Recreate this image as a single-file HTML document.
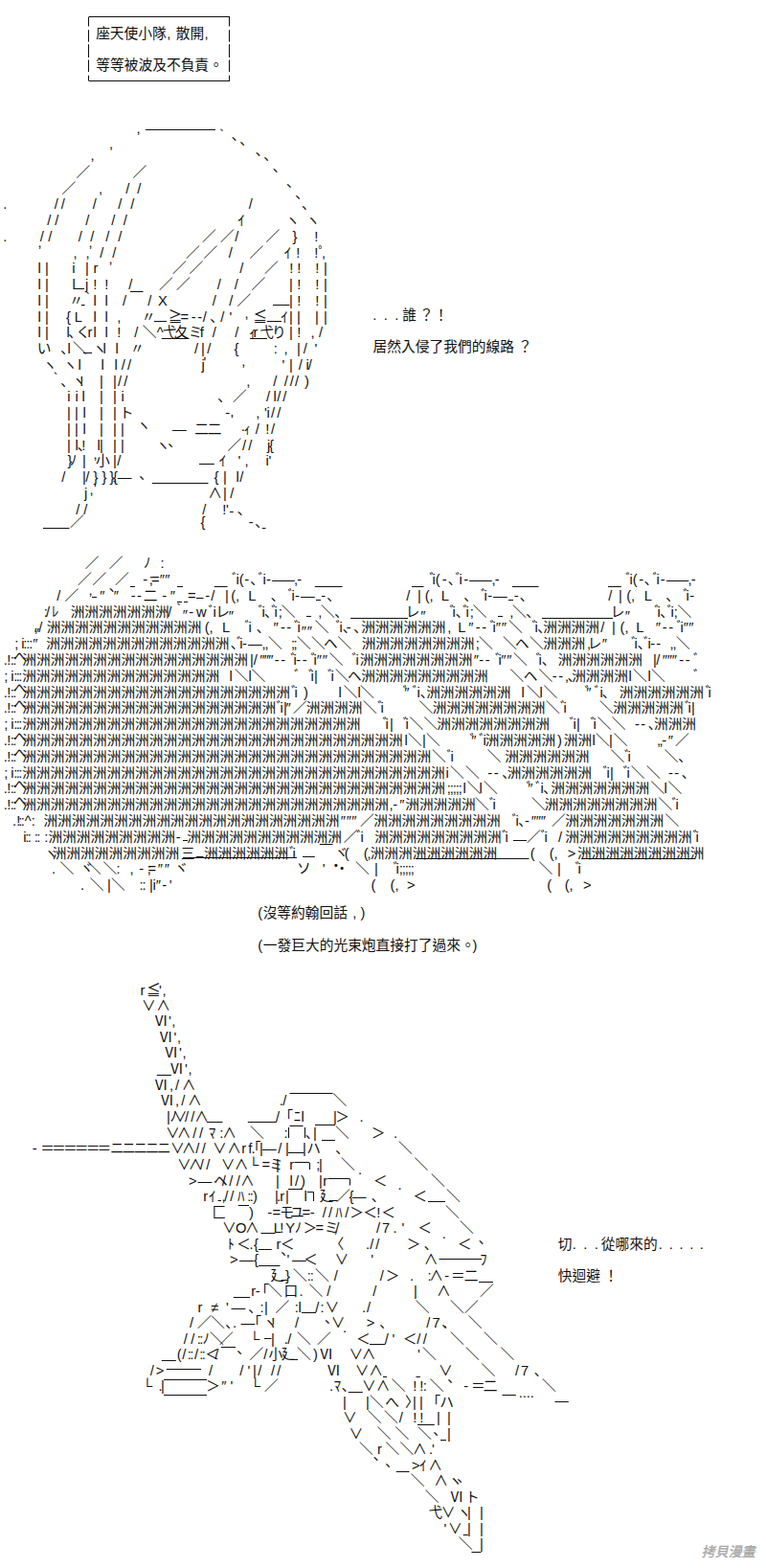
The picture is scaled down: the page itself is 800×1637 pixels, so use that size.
<!DOCTYPE html>
<html lang="zh-Hant"><head><meta charset="utf-8"><title>AA</title>
<style>
html,body{margin:0;padding:0;background:#fff}
body{width:800px;height:1637px;position:relative;overflow:hidden;font-family:"Liberation Sans",sans-serif}
.t{position:absolute;color:transparent;white-space:nowrap;margin:0;line-height:1}
</style></head><body>
<svg width="800" height="1637" viewBox="0 0 800 1637" style="position:absolute;left:0;top:0"><g fill="#111"><g transform="scale(0.007696)" font-size="1914" font-family="'Liberation Sans','Noto Sans CJK JP',sans-serif">
<g font-family="'Liberation Sans','Noto Sans CJK TC',sans-serif">
<text y="5261" x="13011 14925 16839 18753 20667 22630 23876 25790 27753">座天使小隊,散開,</text>
<text y="9549" x="13026 14940 16854 18768 20682 22596 24510 26424 28372">等等被波及不負責。</text>
<text y="43399" x="50584 52078 53572 54592 56914 58891">...誰？！</text>
<text y="47687" x="50623 52537 54451 56365 58279 60193 62107 64021 65935 67849 70298">居然入侵了我們的線路？</text>
<text y="124481" x="34993 35686 37600 39514 41428 43342 45256 47834 48926">(沒等約翰回話,)</text>
<text y="128834" x="34993 35699 37614 39528 41442 43356 45270 47184 49098 51012 52926 54840 56754 58668 60582 62529 64129">(一發巨大的光束炮直接打了過來。)</text>
<text y="169376" x="75734 77676 79170 80665 81573 83487 85401 87315 89371 90800 92197 93594 94958">切...從哪來的.....</text>
<text y="173664" x="75732 77646 79560 81955">快迴避！</text>
</g>
<text x="18503" y="18017">,</text>
<text x="29209" y="19365">｀</text>
<text x="31442" y="18969">､</text>
<text x="32546" y="19619">､</text>
<text x="14800" y="20194">,</text>
<text x="34690" y="21016">､</text>
<text x="35795" y="21763">､</text>
<text x="12266" y="21720">,</text>
<text y="24038" x="10316 18008">／／</text>
<text x="37029" y="23257">､</text>
<text y="26208" x="8367 17056 18615 13370">／//,</text>
<text x="38881" y="25336">､</text>
<text y="28391" x="7376 8285 12573 16017 17706 33753 40960 433">//////､.</text>
<text x="40083" y="26896">､</text>
<text y="30561" x="6401 7441 11599 15107 16731 32255 38746 41507">/////ｲヽヽ</text>
<text y="32744" x="5426 6531 10624 12248 14327 16017 27403 29872 31869 36044 39699 42642 433">//////／／/／}!.</text>
<text x="5119" y="33480">,</text>
<text x="12006" y="33571">,</text>
<text y="34914" x="9927 11616 13548 15237 25194 27598 31025 33835 38557 40173 42642 43216 43646">,,//／／/／ｲ!!ﾟ,</text>
<text y="37097" x="5119 6099 9794 11556 12684 23375 25649 32519 35849 39263 40303 42772 43911">l|i|r／／/／!!!|</text>
<text x="14735" y="35689">,</text>
<text y="39267" x="5119 6099 9796 11574 12626 14185 17446 21556 23894 29465 31804 34095 39233 40303 42772 43911">l|lj!!/／／//／|!!|</text>
<text y="41450" x="5119 6099 9372 11017 12655 14214 16634 20045 21454 28816 31090 32146 39233 40303 42772 43911">l|〃｀ll//X//／|!!|</text>
<text x="10939" y="41946">-</text>
<text y="43620" x="5119 6099 8977 10091 12655 14214 15872 19183 22841 24478 25951 26796 27516 28518 29920 31120 34338 38102 39233 40273 42742 43911">l|{Lll,〃≧=--/､/'≦ｲ||||</text>
<text x="33186" y="43161">,</text>
<text y="45803" x="5119 6099 9017 9287 10320 11904 12655 14214 15874 18226 19320 21265 22062 23714 25552 27118 28816 31869 33774 34384 35251 36917 39233 40303 42152 43272">l|l､くrll!/＼^弋夂ミf//ｨr弋り|!,/</text>
<text y="47973" x="5026 8248 9147 9867 12563 13954 15644 17656 26379 27279 28101 31781 37143 38514 40273 41160 42684">い､l＼ヽll〃/|/{:,|/'</text>
<text y="50156" x="5806 8567 10576 13695 15514 16471 17283 27361 38266 39233 40510 41499 41810">ヽヽlll//j'|/i/</text>
<text x="27611" y="49728">'</text>
<text x="32764" y="49658">,</text>
<text y="52326" x="6664 8248 9769 10806 13505 15324 15984 16796 33414 37067 38561 39341 40023 41325">｀､ヽ!||//,////)</text>
<text y="54508" x="9144 10184 11096 13505 15324 16421 29558 31561 36125 37084 37587 38366">iil||i､／/l//</text>
<text y="56679" x="9087 10127 11226 13505 15324 16205 30564 34713 35862 36172 36775 37587">||l||ト-,'i//</text>
<text x="31314" y="57525">'</text>
<text y="58861" x="9087 10127 11226 13505 15324 16364 23402 26409 28163 33060 34663 36015 36775">||l|||―二二ｨ/!/</text>
<text x="18540" y="58337">ヽ</text>
<text x="32704" y="58409">.</text>
<text y="61031" x="9087 10186 10522 11066 13175 13505 15324 16364 21139 30846 32876 33688 36262 36524">|l､!l|||ヽ／//j{</text>
<text x="22801" y="60615">､</text>
<text y="63214" x="9163 9481 11166 12985 15324 15887 29721 32289 33186 36042 36447">}ﾉ|小|/ｲ',i'</text>
<text x="12656" y="62262">,</text>
<text y="65384" x="8350 11166 11599 12671 13841 14880 15344 15963 29053 30267 32016 32519">/|/}}}{―{|l/</text>
<text x="18903" y="64968">､</text>
<text y="67567" x="11444 28243 30267 31220">j∧|/</text>
<text x="12733" y="66880">'</text>
<text x="12136" y="67005">,</text>
<text x="14656" y="67053">｀</text>
<text y="69737" x="10299 11339 27451 30167 30665 32222">///!'､</text>
<text y="71466" x="9471 27233 33747 34625">／{-､</text>
<text y="77066" x="11518 14766 19486 21763">／／ﾉ:</text>
<text y="79249" x="10511 12525 15578 19389 20227 20515 21665 22379 31459 32014 32459 33163 33976 35033 35652 36119 36916 38085 39878 40309 58260 58651 59097 59995 60808 61801 62290 62919 63684 64853 66711 67142 84897 85419 85864 86698 87446 88568 89057 89622 90451 91556 93348 93780">／／／-;=″″ﾞi(-､ﾞi-――,-ﾞi(-､ﾞi-――,-ﾞi(-､ﾞi-――,-</text>
<text y="81432" x="7700 8756 13544 15428 17765 18577 19457 21988 23094 25453 27835 28621 30527 31354 31952 33676 36769 39061 39550 40017 40814 43558 44371 55129 56645 57667 58265 59858 62952 65244 65668 66167 66932 69741 70554 82546 83933 85020 85617 87406 90370 92694 93086 93585">/／″″--二-″=-/|(,L､ﾞi-―-､/|(,L､ﾞi-―-､/|(,L､ﾞi-</text>
<text x="12006" y="80648">,</text>
<text x="14810" y="80236">､</text>
<text y="83615" x="5957 6239 7011 9570">:/ﾚ洲洲洲洲洲洲洲</text>
<text y="83615" x="22773 23362 25626 26624 28276 28895 29274 35033 35522 35892 36820 37211 37769 38161 43159 69509 43521 45410 55068 61021 61380 61848 62808 63199 63757 64149 69147 71398 82875 88796 89187 89590 90517 91006 91434 91924">/｀-wﾞiレﾞi､ﾞi;＼,＼＼､レﾞi､ﾞi;＼,､レﾞi､ﾞi;＼</text>
<text x="24783" y="84075">″</text>
<text x="31021" y="84205">″</text>
<text x="57074" y="84205">″</text>
<text x="84816" y="84205">″</text>
<text y="85798" x="4599 5232 6321">,/洲洲洲洲洲洲洲洲洲洲洲</text>
<text y="85798" x="27781 28378 30135 33214 33703 34820 37095 38068 38880 39906 40330 42709 45558 46047 46515 47001 48009 49006">(,Lﾞi､″--ﾞi＼ﾞi､-､洲洲洲洲洲洲</text>
<text y="85798" x="60701 62132 63571 64543 65388 66478 66838 67274 68053 68990 72196 72555 72958 73695">,L″--ﾞi″″＼ﾞi､洲洲洲洲</text>
<text y="85798" x="81506 83023 84143 84772 86301 88974 89882 90726 91817 92306 92742 93457">/|(,L″--ﾞi″″</text>
<text x="4643" y="86544">″</text>
<text x="40896" y="86219">″</text>
<text x="41676" y="86219">″</text>
<text y="87981" x="1970 2907 3163 3553 3943 4448 6256">;i:::″洲洲洲洲洲洲洲洲洲洲洲洲洲</text>
<text y="87981" x="31312 32109 32533 32870 33667 35525 35915 36375 39488 39813 40273 42222 43921 45795 49071">､ﾞi-―,,＼;;＼＼ヘ＼洲洲洲洲洲洲洲洲</text>
<text y="87981" x="64536 64962 68210 69909 71848 73695">;＼＼ヘ＼洲洲洲</text>
<text y="87981" x="79640 79756 81697 85645 86069 86537 87334 87888 88257 89037 90880 91269 91729">,レ″ﾞi､ﾞi--,,＼</text>
<text y="90164" x="492 931 1409 1734 3034">.!::洲洲洲洲洲洲洲洲洲洲洲洲洲洲洲洲</text>
<text x="1821" y="89757">へ</text>
<text y="90164" x="33906 34403 35244 35828 36413 37256 38100 39418 39810 40179 41024 42180 42539 42975 43755 44658 47767 48256 48811">|/″″″--ﾞi--ﾞi″″＼ﾞi洲洲洲洲洲洲洲洲</text>
<text y="90164" x="64285 64998 65843 67193 67617 67988 68768 69639 72715 73075 73542 75709">″--ﾞi″″＼ﾞi､洲洲洲洲洲洲</text>
<text y="90164" x="88611 89043 89883 90533 91183 92156 93000 94091">|/″″″--ﾞ</text>
<text y="92347" x="541 1478 1838 2163 2488 3008">;i:::洲洲洲洲洲洲洲洲洲洲洲洲洲洲</text>
<text y="92347" x="31107 31827 33705 34101 39906 41855 42149 42612 44454 44878 45471 47170 49006">l＼l＼ﾞﾞi|ﾞi＼ヘ洲洲洲洲洲洲洲洲洲</text>
<text y="92347" x="69185 71046 73083 74938 75783 76651 77051 77593">＼ヘ＼--,､洲洲洲洲</text>
<text y="92347" x="85292 85882 87890 88351 94091">l＼l＼ﾞ</text>
<text y="94530" x="492 931 1409 1734 3034">.!::洲洲洲洲洲洲洲洲洲洲洲洲洲洲洲洲洲洲洲</text>
<text x="1821" y="94123">へ</text>
<text y="94530" x="39516 39940 41195 45920 46608 48519 48849 54654 54865 55953 56572 57040 57842">ﾞi)l＼l＼ﾞ″ﾞi､洲洲洲洲洲洲</text>
<text y="94530" x="70738 71459 73207 73733 79342 79553 80642 81391 81729 84025">l＼l＼ﾞ″ﾞi､洲洲洲洲洲洲</text>
<text y="94530" x="95715 96074">ﾞi</text>
<text y="96713" x="492 931 1409 1734 3034">.!::洲洲洲洲洲洲洲洲洲洲洲洲洲洲洲洲洲洲</text>
<text x="1821" y="96306">へ</text>
<text y="96713" x="37502 37991 38454 38784 39747 41535">ﾞi|″／洲洲洲洲</text>
<text y="96713" x="49239 51243 51635 56840 58687">＼ﾞi＼洲洲洲洲洲洲洲洲</text>
<text y="96713" x="74057 76029 76453 81334 83181">＼ﾞi＼洲洲洲洲洲</text>
<text y="96713" x="92921 93345 93808">ﾞi|</text>
<text y="98896" x="541 1478 1838 2163 2488 3008">;i:::洲洲洲洲洲洲洲洲洲洲洲洲洲洲洲洲洲洲洲洲洲洲洲洲</text>
<text y="98896" x="51925 52284 52877 54686 55013 55541 57490 59272">ﾞi|ﾞi＼＼洲洲洲洲洲洲洲洲</text>
<text y="98896" x="77263 77753 78215 80122 80481 81042 82991 86146 86958 87966 88736">ﾞi|ﾞi＼＼--､洲洲洲</text>
<text y="101079" x="492 931 1409 1734 3034">.!::洲洲洲洲洲洲洲洲洲洲洲洲洲洲洲洲洲洲洲洲洲洲洲洲洲洲洲</text>
<text x="1821" y="100672">へ</text>
<text y="101079" x="54886 55346 57295 57815 63750 63960 64984 65538 65834">l＼|＼ﾞ″ﾞi洲洲洲洲洲</text>
<text y="101079" x="75629 76489">)洲洲</text>
<text y="101079" x="80354 80814 82633 83251 89125 89450 89817 90663 91593">l＼|＼,,-″／</text>
<text y="103262" x="492 931 1409 1734 3034">.!::洲洲洲洲洲洲洲洲洲洲洲洲洲洲洲洲洲洲洲洲洲洲洲洲洲洲洲洲洲</text>
<text x="1821" y="102855">へ</text>
<text y="103262" x="58594 60631 61120 66099 68497">＼ﾞi＼洲洲洲洲洲洲</text>
<text y="103262" x="82828 84735 85159 90137 92059">＼ﾞi＼､</text>
<text y="105445" x="541 1478 1838 2163 2488 3008">;i:::洲洲洲洲洲洲洲洲洲洲洲洲洲洲洲洲洲洲洲洲洲洲洲洲洲洲洲洲洲洲</text>
<text y="105445" x="60471 61063 63142 66167 67012 68150 68822">i＼＼--､洲洲洲洲洲洲</text>
<text y="105445" x="81811 82300 82763 84573 85029 85590 87701 90694 91506 92514">ﾞi|ﾞi＼＼--､</text>
<text y="107628" x="492 931 1409 1734 3034">.!::洲洲洲洲洲洲洲洲洲洲洲洲洲洲洲洲洲洲洲洲洲洲洲洲洲洲洲洲洲洲</text>
<text x="1821" y="107221">へ</text>
<text y="107628" x="60638 61028 61418 61807 62197 62812 63337 65021 65611 71416 71627 72651 73335 73737 74735">;;;;;l＼l＼ﾞ″ﾞi､洲洲洲洲洲洲洲</text>
<text y="107628" x="88286 90099 90625">＼l＼</text>
<text y="109811" x="492 931 1409 1734 3034">.!::洲洲洲洲洲洲洲洲洲洲洲洲洲洲洲洲洲洲洲洲洲洲洲洲洲洲</text>
<text x="1821" y="109404">へ</text>
<text y="109811" x="52807 53303 54215 54984">,-″洲洲洲洲洲</text>
<text y="109811" x="64442 66381 66838 72108 73890">＼ﾞi＼洲洲洲洲洲洲洲洲</text>
<text y="109811" x="89325 91167 91656">＼ﾞi</text>
<text y="111994" x="1681 2230 2514 2839 3333 4268 5899">.!::^:洲洲洲洲洲洲洲洲洲洲洲洲洲洲洲洲洲洲洲洲洲</text>
<text y="111994" x="46224 47003 47718 48843 50696">″″″／洲洲洲洲洲洲洲洲洲</text>
<text y="111994" x="69467 69956 70359 71203 72082 72731 73381 74831 76684">ﾞi､-″″″／洲洲洲洲洲洲洲</text>
<text y="111994" x="90235">＼</text>
<text y="114177" x="3167 3423 3748 4658 4983 6022 6548">i:::::洲洲洲洲洲洲洲洲洲</text>
<text y="114177" x="23872 25357">-洲洲洲洲洲洲洲洲洲洲洲</text>
<text y="114177" x="46602 48352 48906 50826">／ﾞi洲洲洲洲洲洲洲洲洲</text>
<text y="114177" x="68103 68527 71453 73365 73854 75757 76684">ﾞi／ﾞi/洲洲洲洲洲洲洲洲洲</text>
<text y="114177" x="94026 94385">ﾞi</text>
<text y="116360" x="5968 7101">ヽ洲洲洲洲洲洲洲洲洲</text>
<text y="116360" x="24525 27664">三洲洲洲洲洲洲</text>
<text y="116360" x="39256 39680 45396 46752 49351 49818 50241">ﾞiヾ((,洲洲洲洲洲洲洲洲洲</text>
<text y="116360" x="71961 74560 75157 77035 78340">((,&gt;洲洲洲洲洲洲洲洲洲</text>
<text y="118543" x="7008 8113 10832 11816 13960 15800 17593 18869 19967 20060 21405 22315 23664 40284 43756 45454 48199 50798 53354 53714 54141 54531 54921 55310 55700 73083 75617 78043 78402">.＼ヾ＼＼:,-;=″″ヾソ'・＼|ﾞi;;;;;＼|ﾞi</text>
<text x="44642" y="118114">・</text>
<text y="120726" x="10906 12173 14545 15065 18905 19294 20262 20709 21145 21988 22966 50358 52957 53587 55238 74235 76639 77236 79147">.＼|＼::|i″-'((,&gt;((,&gt;</text>
<text y="134941" x="19051 19882 21569 22011">r≦',</text>
<text y="137053" x="19243 21226">∨∧</text>
<text y="139165" x="20935 22868 23278">Ⅵ',</text>
<text y="141309" x="21585 23583 24025">Ⅵ',</text>
<text y="143453" x="22300 24298 24740">Ⅵ',</text>
<text y="145629" x="23047 25077 25520">Ⅵ',</text>
<text y="147806" x="20935 22986 23781 24669">Ⅵ,/∧</text>
<text y="149982" x="21747 23765 24593 25482 38366 45146 37901">Ⅵ,/∧/＼.</text>
<text y="152159" x="22601 23059 23499 25080 25892 26424 37424 38813 39859 40852 45211 45525 48784">|ﾉ∨//∧/｢ﾆl|＞.</text>
<text y="154303" x="53397 22491 24020 26152 27029 28324 29801 30192 33906 38540 41447 42482 45471 50397">.∨∧//ﾏ:∧＼:､|＼＞</text>
<text y="156479" x="4381 5492 7031 8571 10111 11651 13191 14928 16519 18111 19703 21295 23141 24669 26542 27386 28859 30842 32792 33680 34101 34460 35205 35617 37717 38714 41053 41605 45540 54047">-＝＝＝＝＝＝ニニニニニ∨∧//∨∧rf.｢|―/||ハ､＼</text>
<text y="158656" x="24051 25579 27126 27971 29996 31816 33711 35523 36532 37414 39289 42901 43261 46250 56191">∨∧//∨∧└=ミ|r;|＼＼</text>
<text y="160800" x="25611 26846 28978 30115 31090 32064 32628 37414 39293 40023 40805 43261 43837 50645 58465">&gt;―ヘ///∧|l/)|r＜＼</text>
<text x="48589" y="159307">.</text>
<text y="162944" x="27595 28324 30068 30440 31220 32237 33569 33894 34308 37284 37544 37990 38714 41242 43333 45594 47374 47798 50413 56038 60544">rｲ,//ﾊ::)|.r|l廴／{―､＜＼</text>
<text x="53982" y="161386">.</text>
<text y="165088" x="28795 33788 36281 36952 37980 39386 40981 42064 43759 44571 45523 46812 47474 49281 51088 51750 60414">匚)-=モユ=-//ﾊ/＞＜!＜＼</text>
<text y="167232" x="30158 31970 33278 37119 37964 38760 39984 41139 42800 44004 45271 45513 51068 51839 53332 54509 56687 62363">∨O∧L!Yﾉ＞=ミ,//7.'＜＼</text>
<text y="169376" x="30856 32096 33841 34445 37503 38041 44777 49629 50191 50970 55205 57560 62080">ﾄ＜.{r＜〈.//＞､＜</text>
<text x="59991" y="167948">.</text>
<text x="64966" y="168660">､</text>
<text y="171520" x="31199 32498 34445 38916 39645 41192 45426 50318 57544 65145">&gt;―{'―＜∨'∧ﾌ</text>
<text x="38134" y="170220">､</text>
<text y="173664" x="36674 38724 39753 41691 42081 42742 45318 51555 52346 55606 58031 58259 60320 61204 62987">廴}＼::＼//＞.:∧-＝二</text>
<text y="175808" x="34092 34657 35564 36375 38511 40598 41897 44344 50581 56126 59266 65086">r-｢＼口.＼//|∧／</text>
<text y="177952" x="26848 28580 30665 31393 33716 35291 35855 37343 40001 40462 42784 43463 44127 49109 49769 56353 61063 63006">r≠'―､:|／:l/:∨./＼＼／</text>
<text y="180096" x="25730 26753 28578 30597 31567 32693 34525 35692 36794 40023 44939 49748 51518 57857 58661 60154 63500 59964">/／＼､.―｢ヽ!/∨&gt;､/7.＼､</text>
<text x="44079" y="179380">､</text>
<text x="46510" y="180747">.</text>
<text y="182240" x="24917 25892 26748 27072 27477 28448 29742 33841 36764 38551 39016 40273 42996 48339 52205 53209 54673 56558 57403 61063 65611">//::ﾉ＼／└|./＼／＜/'＜//＼＼</text>
<text y="184384" x="24013 24723 25448 25773 26379 27072 27397 27841 29141 33835 35767 36439 38135 40273 42494 43350 47375 49098 56653 57295 63142 67885">(/::/::＜/／/小廴＼)Ⅵ∨∧'＼＼＼</text>
<text x="32157" y="183604">､</text>
<text y="186528" x="20370 21161 28328 32519 33588 34296 34988 36775 37587 44325 48187 50073 59524 65286 69909 70680 72503">/&gt;//'|///Ⅵ∨∧∨＼/7､</text>
<text y="188672" x="19288 21496 21821 27983 30046 31250 33938 35849 44691 45314 46385 49129 51047 53105 56026 56935 57413 58302 62919 63932 65586 73538">└.|＞″'└／.ﾏ､∨∧＼!!:＼-＝二＼</text>
<text x="60743" y="187502">､</text>
<text y="190816" x="46510 49629 50148 52270 54949 55996 56905 58824 59666">||＼へ〉||｢ハ</text>
<text y="189583" x="70386 70906 71426 71946">....</text>
<text y="192960" x="46530 49856 52097 54154 56026 56935 59244 60673">∨＼＼/!!||</text>
<text y="195104" x="47375 51155 53592 56645 60673">∨＼＼＼|</text>
<text x="58794" y="194583">､</text>
<text y="197248" x="48719 51211 52292 54242 56018 58602 58205">＼r＼＼∧'.</text>
<text x="50673" y="198027">､</text>
<text x="52297" y="198871">､</text>
<text y="199392" x="55887 56911 58129">&gt;ｲ∧</text>
<text y="201536" x="55703 58909 60836">＼∧ヽ</text>
<text x="62043" y="201016">､</text>
<text y="203680" x="57652 61022 63146">＼Ⅵト</text>
<text y="205824" x="58153 59882 62005 63402 65091">弋∨ヽ||</text>
<text y="207968" x="60226 60824 63402 65091">'∨||</text>
<text y="210112" x="62200 65091">＼|</text>
</g><g transform="translate(762 1620) skewX(-12) translate(-762 -1620)"><text x="733.9" y="1625.3" font-size="14" font-family="'Liberation Sans','Noto Sans CJK TC',sans-serif" fill="#a6a6a6" stroke="#a6a6a6" stroke-width="0.34">拷貝漫畫</text></g></g><path d="M92.5 17.5H240.0M92.5 84.5H240.0M92.5 18.0V27.5M92.5 31.2V43.8M92.5 46.2V60.0M92.5 62.5V75.0M92.5 78.8V84.0M239.5 18.0V27.5M239.5 31.2V43.8M239.5 46.2V60.0M239.5 62.5V75.0M239.5 78.8V84.0M152.0 135.5H225.0M77.0 301.5H88.0M136.0 304.5H149.5M285.0 318.5H302.5M161.0 335.5H174.0M278.8 335.5H294.0M168.8 353.5H197.5M261.0 353.5H279.0M87.0 368.5H96.0M208.0 484.5H223.8M158.8 504.5H217.5M240.0 534.5H243.8M45.0 551.5H72.5M273.8 551.5H277.5M96.0 623.5H101.0M136.0 612.5H141.0M185.0 612.5H191.0M185.0 628.5H190.0M192.0 628.5H196.0M205.0 624.5H212.5M223.8 612.5H237.5M330.0 626.5H335.0M328.8 612.5H357.5M430.0 612.5H442.5M531.0 626.5H536.0M535.0 612.5H562.5M635.0 612.5H648.8M320.0 643.5H325.0M366.0 645.5H426.0M520.0 643.5H525.0M566.0 645.5H640.0M191.0 877.5H196.0M536.0 877.5H550.0M205.0 894.5H212.5M333.8 881.5H347.5M191.0 895.5H310.0M433.8 896.5H552.5M607.5 896.5H726.0M316.0 894.5H328.8M163.8 1122.5H178.8M302.5 1141.5H347.5M216.0 1171.5H232.5M258.8 1171.5H288.8M301.5 1177.0V1188.0M302.5 1175.5H316.5M318.5 1177.0V1188.0M329.0 1174.5H350.0M301.0 1203.5H317.5M336.0 1190.5H350.0M307.5 1213.5H323.0M323.5 1213.8V1221.0M342.5 1230.5H365.0M365.5 1230.5V1237.5M227.5 1253.5H231.0M301.0 1241.5H316.0M321.0 1244.5H327.5M327.5 1244.5V1254.0M343.8 1253.5H352.5M447.0 1254.5H465.0M248.8 1258.5H260.0M272.5 1287.5H287.5M270.0 1304.5H283.8M270.0 1321.5H292.5M458.5 1314.5H503.0M293.8 1336.5H300.0M500.0 1338.5H515.0M243.8 1354.5H261.0M315.0 1370.5H330.0M276.0 1397.5H283.5M386.0 1403.5H402.5M231.0 1406.5H246.0M305.0 1419.5H311.0M168.8 1420.5H183.8M173.8 1429.5H210.0M400.0 1437.5H404.0M171.0 1440.5H216.0M171.0 1456.5H216.0M363.8 1453.5H378.8M434.5 1437.5H438.8M524.5 1456.5H538.8M579.5 1463.5H593.8M436.0 1487.5H453.8M460.0 1503.5H466.0M413.8 1536.5H427.5M483.8 1602.5H488.8M492.5 1620.5H502.5" fill="none" stroke="#111" stroke-width="1.05"/></svg>
<p class="t" style="left:101px;top:27px;font-size:14.7px">座天使小隊, 散開,</p>
<p class="t" style="left:101px;top:60px;font-size:14.7px">等等被波及不負責。</p>
<p class="t" style="left:390px;top:321px;font-size:14.7px">. . . 誰？！</p>
<p class="t" style="left:390px;top:354px;font-size:14.7px">居然入侵了我們的線路？</p>
<p class="t" style="left:270px;top:945px;font-size:14.7px">(沒等約翰回話, )</p>
<p class="t" style="left:270px;top:978px;font-size:14.7px">(一發巨大的光束炮直接打了過來。)</p>
<p class="t" style="left:583px;top:1290px;font-size:14.7px">切. . . 從哪來的. . . . .</p>
<p class="t" style="left:583px;top:1323px;font-size:14.7px">快迴避！</p>

</body></html>
